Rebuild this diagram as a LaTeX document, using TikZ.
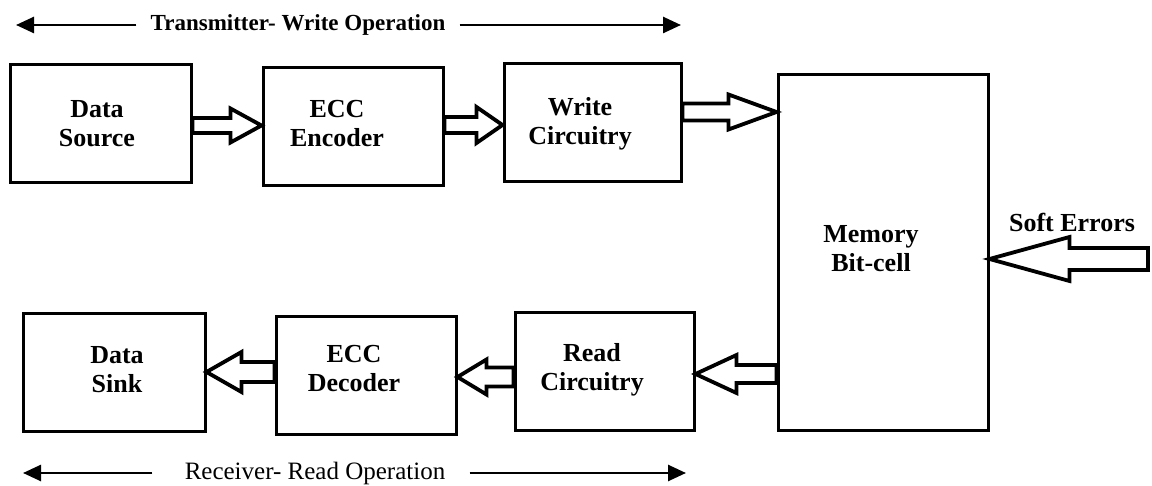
\documentclass[tikz,border=0pt]{standalone}
\usepackage{fontspec}
\setmainfont{Liberation Serif}
\usetikzlibrary{arrows.meta,calc}

\tikzset{
  box/.style={draw, line width=1.5pt, inner sep=0pt},
  boxtext/.style={font=\fontsize{13}{14.5}\selectfont\bfseries, align=center, inner sep=0pt},
  optext/.style={font=\fontsize{11.5}{13}\selectfont, inner sep=0pt},
  blockarrow/.style={draw, fill=white, line width=1.9pt, line join=miter},
  thinarrow/.style={line width=1.3pt, -{Triangle[length=9pt,width=8pt]}},
}

% hollow block arrow: #1 tail anchor, #2 tip anchor, #3 axis y,
% #4 half body height, #5 half head height, #6 shift from tip to head base
\newcommand\hollowarrow[6]{%
  \pgfmathsetmacro\yba{#3-#4}\pgfmathsetmacro\ybb{#3+#4}%
  \pgfmathsetmacro\yha{#3-#5}\pgfmathsetmacro\yhb{#3+#5}%
  \coordinate (hb) at ([xshift=#6]#2);
  \draw[blockarrow] (#1 |- 0,\yba) -- (hb |- 0,\yba) -- (hb |- 0,\yha)
    -- (#2 |- 0,#3) -- (hb |- 0,\yhb) -- (hb |- 0,\ybb) -- (#1 |- 0,\ybb) -- cycle;
}

\begin{document}
\begin{tikzpicture}[x=0.5pt, y=-0.5pt]
\useasboundingbox (0,0) rectangle (1152,486);

% blocks
\node[box, minimum width=90.5pt, minimum height=59pt] (ds)   at (100.5,124) {};
\node[box, minimum width=90pt,   minimum height=59pt] (enc)  at (353,127) {};
\node[box, minimum width=88.5pt, minimum height=59pt] (wr)   at (592.5,123) {};
\node[box, minimum width=105pt,  minimum height=177.5pt] (mem) at (883,252.5) {};
\node[box, minimum width=91pt,   minimum height=58.5pt] (sink) at (114,372.5) {};
\node[box, minimum width=90pt,   minimum height=58.5pt] (dec)  at (366,375.5) {};
\node[box, minimum width=89.5pt, minimum height=58.5pt] (rd)   at (604.5,371.5) {};

% block labels
\node[boxtext] (dst)  at (97,123.5)  {Data\\Source};
\node[boxtext] (enct) at (337,124)   {ECC\\Encoder};
\node[boxtext] (wrt)  at (580,124)   {Write\\Circuitry};
\node[boxtext] (memt) at (871,249)   {Memory\\Bit-cell};
\node[boxtext] (sinkt) at (117,370)  {Data\\Sink};
\node[boxtext] (dect) at (354,369)   {ECC\\Decoder};
\node[boxtext] (rdt)  at (592,370)   {Read\\Circuitry};
\node[boxtext] (soft) at (1072,222)  {Soft Errors};

% data flow
\hollowarrow{ds.east}{enc.west}{125.5}{7.5}{17}{-15.5pt}
\hollowarrow{enc.east}{wr.west}{125}{8}{18}{-13pt}
\hollowarrow{wr.east}{mem.west}{112}{8.5}{17.5}{-24pt}
\coordinate (src) at (1148,259);
\hollowarrow{src}{mem.east}{259}{11}{22}{40pt}
\hollowarrow{mem.west}{rd.east}{374}{9}{19}{20.5pt}
\hollowarrow{rd.west}{dec.east}{377}{9.5}{17.5}{14.5pt}
\hollowarrow{dec.west}{sink.east}{372}{10}{20}{17.5pt}

% operation captions
\node[optext, font=\fontsize{11.5}{13}\selectfont\bfseries] (tx) at (298,25) {Transmitter- Write Operation};
\coordinate (txl) at (16,25);
\coordinate (txr) at (681,25);
\draw[thinarrow] ([xshift=-7pt]tx.west) -- (txl);
\draw[thinarrow] ([xshift=7pt]tx.east) -- (txr);

\node[optext, font=\fontsize{12.5}{14}\selectfont] (rx) at (315,473) {Receiver- Read Operation};
\coordinate (rxl) at (23,473);
\coordinate (rxr) at (686,473);
\draw[thinarrow] ([xshift=-16pt]rx.west) -- (rxl);
\draw[thinarrow] ([xshift=12pt]rx.east) -- (rxr);
\end{tikzpicture}
\end{document}
